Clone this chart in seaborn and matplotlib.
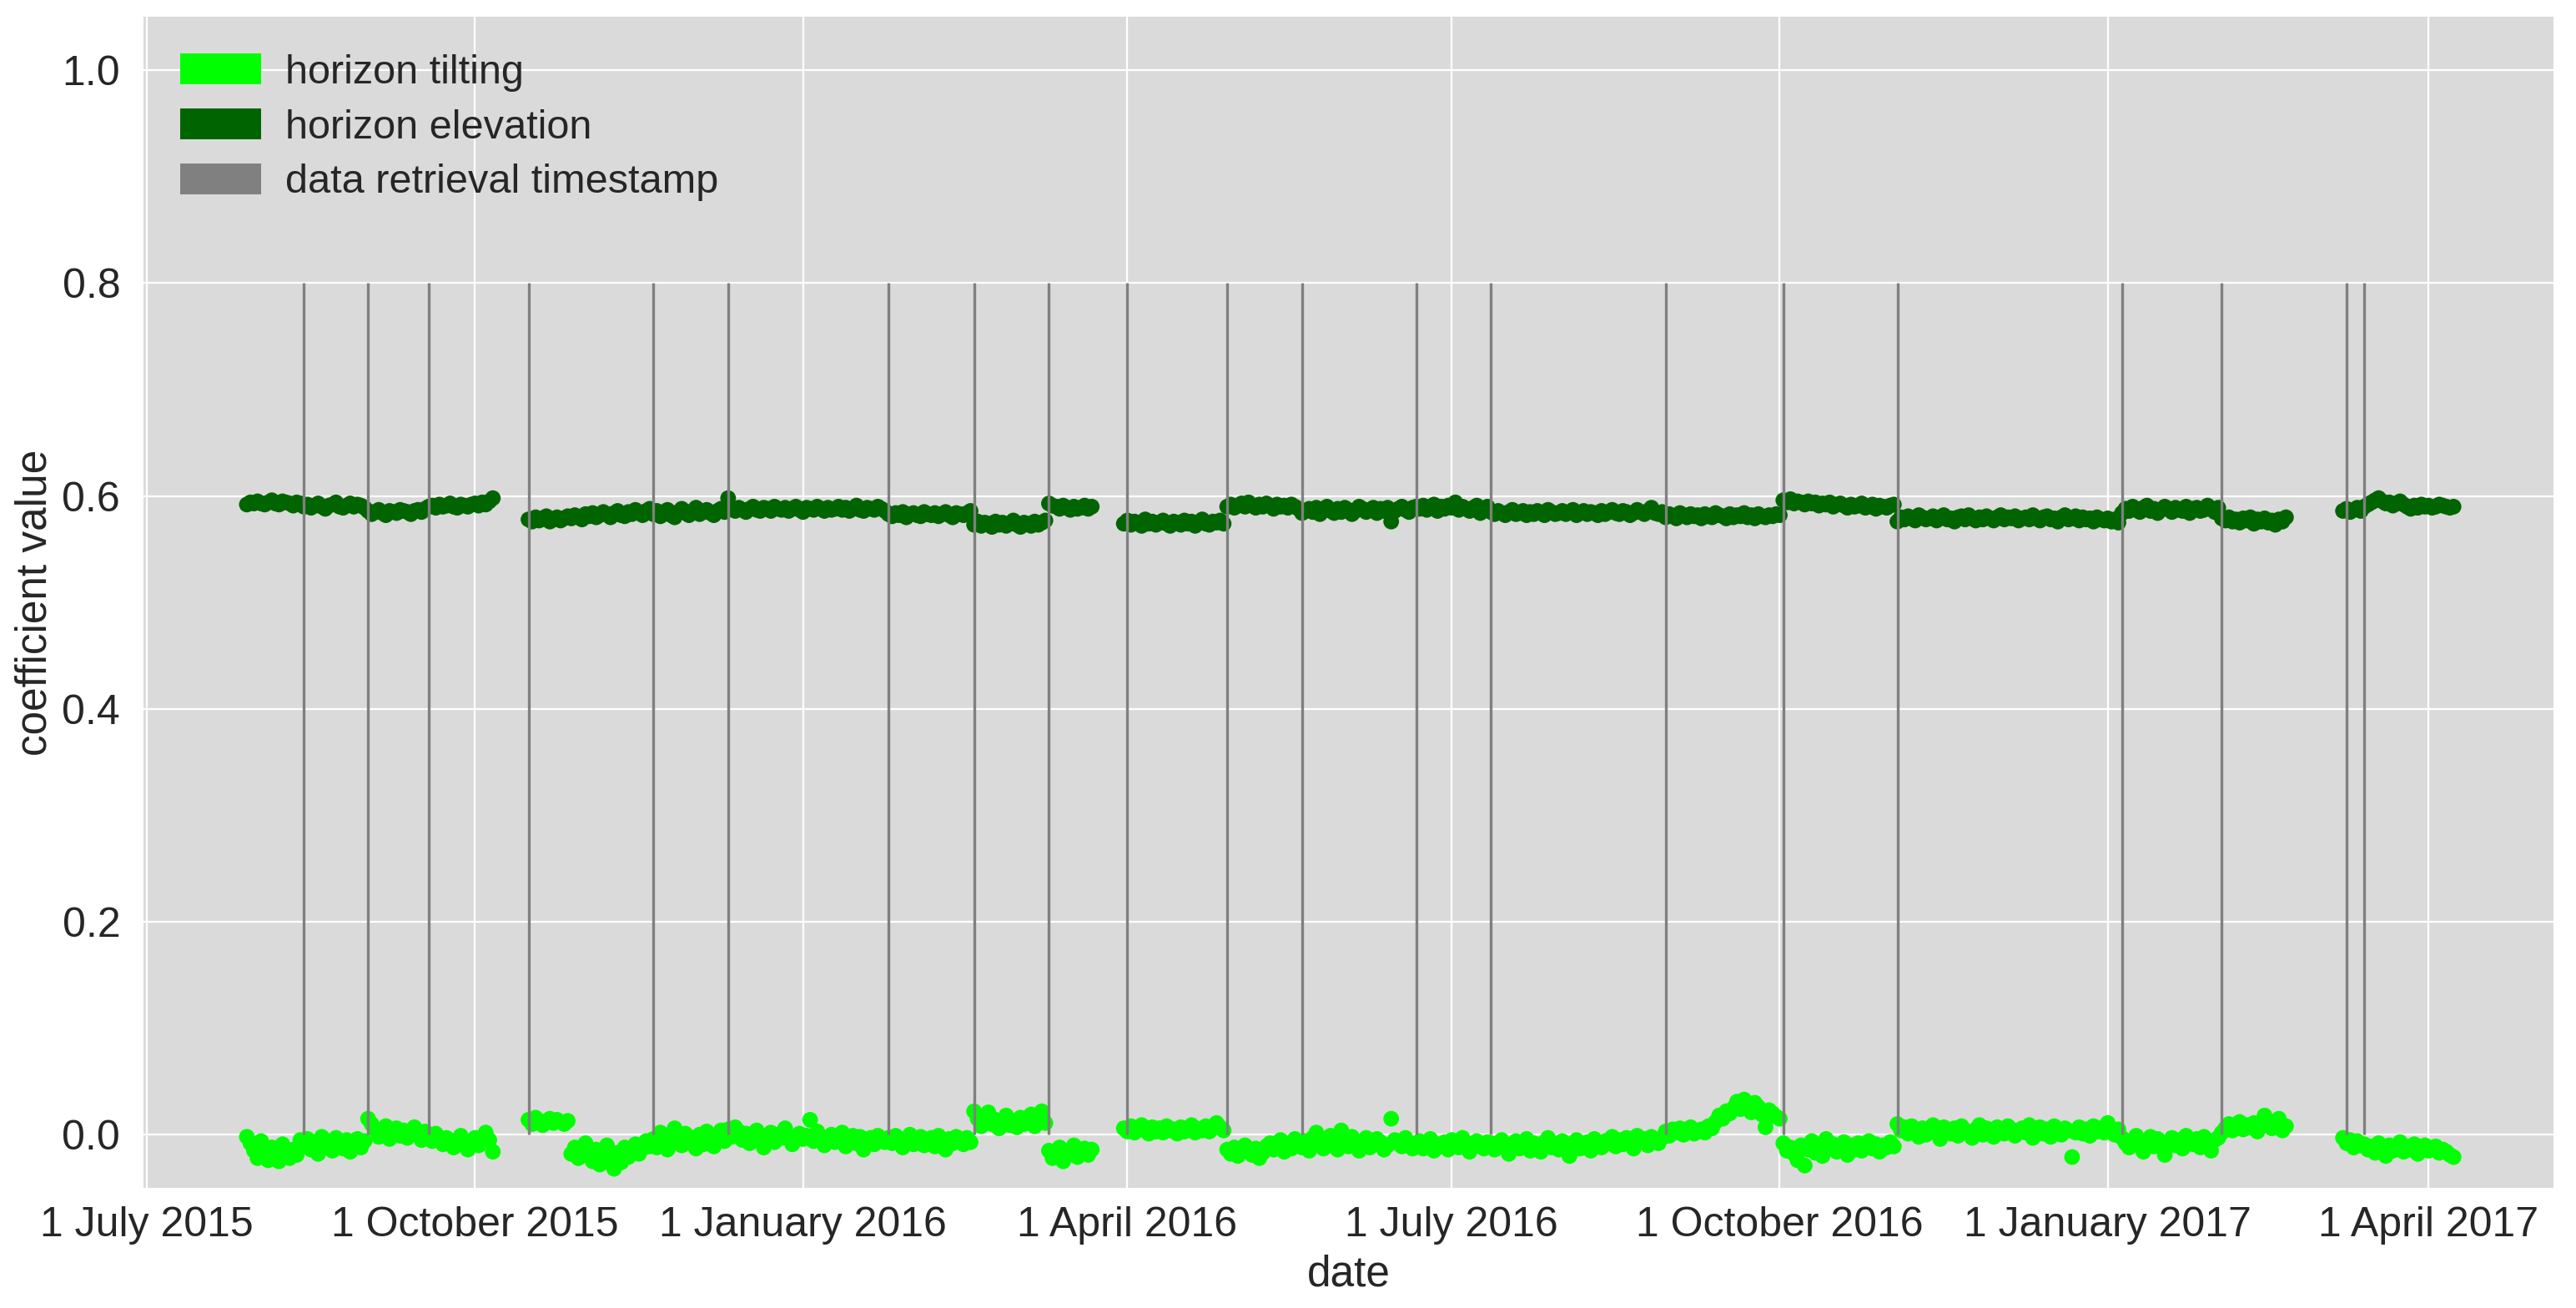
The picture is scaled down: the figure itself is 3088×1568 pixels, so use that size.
import numpy as np
import pandas as pd
import matplotlib
matplotlib.use("Agg")
import matplotlib.pyplot as plt
from matplotlib.patches import Patch
import seaborn as sns

# ---------------- data ----------------
piece_start = ['2015-07-29', '2015-08-14', '2015-09-01', '2015-09-18',
               '2015-10-16', '2015-10-28', '2015-11-20', '2015-12-11', '2016-01-25', '2016-02-18', '2016-03-10',
               '2016-03-31', '2016-04-29', '2016-05-20', '2016-06-21', '2016-07-12', '2016-08-30', '2016-10-02',
               '2016-11-03', '2017-01-05', '2017-02-02',
               '2017-03-08', '2017-03-14']

# horizon elevation (thousandths)
elevation_pieces = [
    [592, 594, 593, 595, 593, 592, 594, 596, 593, 592, 595, 594, 593, 591, 594, 593],
    [590, 592, 589, 591, 593, 590, 588, 591, 592, 594, 590, 589, 591, 593, 590, 592, 591, 589],
    [586, 583, 585, 587, 584, 582, 586, 585, 584, 587, 586, 585, 583, 586, 587, 585, 588],
    [590, 591, 589, 592, 590, 591, 593, 590, 589, 592, 591, 590, 592, 593, 591, 594, 592, 595, 598],
    [578, 576, 580, 577, 579, 581, 576, 578, 580, 577, 579, 581],
    [579, 582, 580, 578, 583, 581, 584, 580, 582, 585, 583, 580, 584, 586, 582, 581, 585, 583, 587, 584, 582, 586, 588],
    [583, 586, 581, 584, 587, 582, 580, 585, 588, 584, 582, 586, 589, 583, 585, 587, 584, 582, 586, 588, 585],
    [598, 588, 586, 589, 587, 585, 588, 590, 587, 586, 589, 588, 586, 590, 588, 587, 589, 586, 588, 590, 587, 585,
     589, 588, 587, 590, 588, 586, 589, 587, 588, 590, 587, 589, 586, 588, 591, 587, 586, 589, 588, 587, 590, 588, 586],
    [583, 581, 584, 582, 585, 580, 583, 584, 582, 581, 585, 583, 582, 584, 581, 583, 585, 582, 580, 584, 583, 582, 584, 586],
    [573, 576, 572, 575, 574, 571, 576, 573, 575, 572, 574, 577, 573, 571, 575, 574, 572, 576, 573, 575, 577],
    [593, 591, 590, 588, 591, 589, 587, 590, 588, 589, 591, 588, 590],
    [574, 577, 573, 576, 575, 572, 578, 574, 576, 573, 575, 577, 574, 572, 576, 575, 573, 577, 574, 576, 572, 575,
     578, 574, 573, 576, 575, 577, 574],
    [590, 592, 589, 591, 593, 590, 594, 591, 589, 592, 590, 593, 591, 588, 592, 590, 591, 589, 592, 590, 588],
    [584, 586, 588, 585, 589, 583, 587, 590, 586, 584, 588, 585, 589, 587, 583, 586, 590, 588, 585, 587, 589, 584,
     588, 586, 589, 576, 586, 588, 590, 587, 585, 589],
    [590, 588, 591, 587, 589, 592, 586, 590, 588, 591, 589, 594, 587, 590, 588, 586, 589, 591, 584, 588, 590],
    [585, 583, 586, 584, 582, 585, 587, 583, 584, 586, 582, 585, 583, 586, 584, 582, 587, 585, 583, 584, 586, 583,
     585, 587, 582, 584, 586, 583, 585, 584, 582, 586, 583, 585, 587, 584, 583, 586, 585, 582, 584, 587, 585, 583,
     586, 589, 584, 583, 585],
    [580, 583, 581, 579, 584, 582, 580, 583, 581, 582, 579, 583, 581, 580, 584, 582, 581, 579, 583, 580, 582, 581,
     584, 580, 582, 579, 583, 581, 580, 582, 581, 583, 582],
    [596, 594, 597, 593, 595, 594, 592, 595, 593, 594, 591, 593, 592, 594, 590, 592, 593, 591, 589, 592, 590, 591,
     593, 589, 590, 592, 588, 591, 590, 589, 591, 592],
    [576, 580, 578, 581, 579, 577, 582, 580, 578, 579, 581, 577, 580, 582, 578, 579, 576, 580, 581, 578, 582, 579,
     577, 580, 578, 581, 579, 577, 580, 582, 578, 580, 579, 581, 577, 579, 580, 578, 582, 579, 577, 580, 581, 578,
     579, 576, 580, 582, 578, 579, 581, 577, 580, 578, 579, 576, 580, 578, 577, 579, 576, 578, 575],
    [584, 588, 586, 590, 587, 585, 589, 591, 586, 588, 584, 587, 590, 588, 585, 589, 587, 586, 590, 584, 588, 589,
     586, 587, 591, 588, 585, 589],
    [579, 577, 580, 576, 578, 575, 579, 577, 580, 574, 578, 576, 579, 575, 577, 573, 578, 576, 580],
    [586, 588, 585, 587, 589, 586],
    [590, 592, 594, 596, 598, 595, 593, 594, 591, 593, 595, 592, 590, 588, 591, 589, 592, 590, 591, 589, 590, 592,
     591, 590, 589, 590],
]

# horizon tilting (thousandths)
tilting_pieces = [
    [-2, -8, -15, -22, -6, -18, -24, -12, -20, -25, -9, -17, -22, -14, -19, -5],
    [-10, -4, -14, -7, -18, -2, -11, -6, -15, -3, -9, -13, -5, -16, -8, -4, -12, -6],
    [15, 10, 5, -2, 3, 8, -4, 1, 6, -1, 4, -3, 2, 7, 0, -5, 3],
    [-2, -6, 1, -4, -9, -3, -7, -12, -5, -1, -8, -14, -6, -3, -10, -2, 2, -5, -16],
    [14, 10, 16, 12, 9, 13, 15, 11, 14, 12, 10, 13],
    [-18, -12, -22, -16, -8, -20, -25, -14, -28, -19, -10, -24, -32, -17, -26, -12, -21, -15, -9, -18, -13, -6, -11],
    [-4, -12, 2, -8, -14, -2, 6, -6, -10, 1, -7, -3, -13, 0, -9, 3, -5, -11, -1, 4, -6],
    [5, -2, 7, 3, -5, 1, -8, -3, 4, -1, -12, -4, 2, -7, 0, -3, 6, -2, -9, -5, 1, -4, -1, 14, -6, 3, -2, -10, -4, 0,
     -7, -3, 2, -11, -5, -1, -8, -2, -14, -6, -3, -9, -1, -4, -7],
    [-3, -8, -1, -6, -12, -4, 0, -9, -5, -2, -10, -7, -3, -11, -1, -6, -14, -4, -8, -2, -5, -9, -3, -7],
    [22, 15, 8, 12, 21, 10, 14, 6, 11, 18, 9, 13, 7, 16, 10, 12, 19, 8, 14, 22, 11],
    [-15, -22, -18, -12, -25, -20, -16, -10, -21, -17, -13, -19, -14],
    [6, 3, 8, 2, 5, 9, 4, 1, 7, 3, 6, 2, 8, 4, 5, 1, 7, 3, 6, 9, 2, 5, 4, 8, 3, 6, 11, 7, 4],
    [-14, -18, -12, -20, -16, -10, -15, -19, -13, -22, -17, -11, -8, -14, -12, -5, -16, -9, -13, -4, -10],
    [-12, -6, -15, -3, 2, -9, -13, -5, -1, -10, -14, 4, -7, -11, -2, -8, -15, -6, -3, -12, -9, -4, -7, -14, -10, 15,
     -5, -8, -11, -3, -9, -13],
    [-10, -6, -13, -8, -4, -15, -9, -11, -7, -14, -5, -10, -12, -3, -8, -16, -9, -6, -11, -13, -7],
    [-8, -14, -10, -5, -12, -18, -9, -6, -13, -11, -4, -15, -8, -10, -16, -7, -3, -12, -9, -14, -6, -11, -20, -8,
     -5, -13, -10, -7, -15, -4, -9, -12, -6, -8, -2, -11, -5, -9, -3, -7, -13, -1, -6, -4, -10, -2, -5, -8, -3],
    [3, -1, 5, 2, 6, 0, 4, 7, 1, 3, 5, 2, 8, 6, 12, 18, 15, 22, 20, 25, 31, 24, 33, 28, 21, 30, 26, 19, 7, 23, 20,
     17, 15],
    [-8, -15, -12, -18, -24, -10, -29, -14, -6, -17, -11, -20, -4, -13, -9, -16, -12, -7, -19, -10, -14, -8, -15,
     -11, -6, -13, -9, -16, -10, -12, -7, -11],
    [10, 4, 7, 1, 8, 3, -2, 6, 0, 5, 9, 2, -4, 7, 3, 1, 6, -1, 8, 4, 2, -3, 5, 9, 0, 6, 3, -2, 7, 4, 1, 8, 5, -1, 3,
     6, 2, 9, -3, 4, 7, 1, 5, -2, 8, 3, 0, 6, 4, -21, 2, 7, 1, 5, -1, 8, 3, 6, 2, 11, 4, 0, 5],
    [-3, -8, -12, -5, -1, -9, -16, -6, -2, -11, -4, -8, -19, -7, -3, -10, -5, -13, -1, -6, -9, -4, -12, -2, -7, -15,
     -5, -3],
    [2, 6, 10, 4, 8, 12, 5, 9, 7, 11, 3, 8, 18, 13, 6, 10, 15, 4, 8],
    [-3, -8, -5, -12, -6, -10],
    [-9, -14, -11, -17, -8, -13, -20, -10, -15, -12, -7, -16, -11, -14, -9, -18, -12, -10, -15, -13, -11, -17, -14,
     -16, -19, -21],
]

retrieval_dates = ['2015-08-14', '2015-09-01', '2015-09-18', '2015-10-16', '2015-11-20', '2015-12-11',
                   '2016-01-25', '2016-02-18', '2016-03-10', '2016-04-01', '2016-04-29', '2016-05-20',
                   '2016-06-21', '2016-07-12', '2016-08-30', '2016-10-02', '2016-11-03', '2017-01-05',
                   '2017-02-02', '2017-03-09', '2017-03-14']
retrieval_top = 0.8

tick_dates = ['2015-07-01', '2015-10-01', '2016-01-01', '2016-04-01',
              '2016-07-01', '2016-10-01', '2017-01-01', '2017-04-01']
tick_labels = ['1 July 2015', '1 October 2015', '1 January 2016', '1 April 2016',
               '1 July 2016', '1 October 2016', '1 January 2017', '1 April 2017']
y_ticks = [0.0, 0.2, 0.4, 0.6, 0.8, 1.0]

series_names = ['horizon tilting', 'horizon elevation', 'data retrieval timestamp']
series_colors = ['#00ff00', '#006400', '#808080']

# ---------------- build long table ----------------
rows = []
for start, ev, tv in zip(piece_start, elevation_pieces, tilting_pieces):
    d_e = pd.date_range(start, periods=len(ev), freq='D')
    d_t = pd.date_range(start, periods=len(tv), freq='D')
    rows.append(pd.DataFrame({'date': d_t, 'value': np.array(tv) / 1000.0, 'series': series_names[0]}))
    rows.append(pd.DataFrame({'date': d_e, 'value': np.array(ev) / 1000.0, 'series': series_names[1]}))
df = pd.concat(rows, ignore_index=True)

# ---------------- style ----------------
sns.set_style("darkgrid", {"axes.facecolor": "#dadada", "grid.color": "white"})
plt.rcParams['font.family'] = ['Liberation Sans', 'DejaVu Sans']
plt.rcParams['text.color'] = '#262626'
plt.rcParams['axes.labelcolor'] = '#262626'
plt.rcParams['xtick.color'] = '#262626'
plt.rcParams['ytick.color'] = '#262626'

fig = plt.figure(figsize=(15.44, 7.84), dpi=200)
ax = fig.add_axes([0.0557, 0.0918, 0.9355, 0.8952])

sns.scatterplot(data=df, x='date', y='value', hue='series',
                hue_order=series_names[:2], palette=series_colors[:2],
                s=46, linewidth=0, alpha=1.0, legend=False, ax=ax, zorder=2)

ax.vlines(pd.to_datetime(retrieval_dates), 0, retrieval_top, colors=series_colors[2],
          linewidth=1.2, zorder=3)

ax.set_xlim(pd.Timestamp('2015-06-30'), pd.Timestamp('2017-05-06'))
ax.set_ylim(-0.05, 1.05)
ax.set_xticks(pd.to_datetime(tick_dates))
ax.set_xticklabels(tick_labels)
ax.set_yticks(y_ticks)
ax.set_yticklabels([f'{v:.1f}' for v in y_ticks])
ax.tick_params(axis='both', labelsize=18, length=0)
ax.tick_params(axis='y', pad=10)
ax.tick_params(axis='x', pad=8)
ax.grid(True, color='white', linewidth=0.8)
ax.set_xlabel('date', fontsize=18.5, labelpad=4)
ax.set_ylabel('coefficient value', fontsize=18.5, labelpad=3)
for sp in ax.spines.values():
    sp.set_visible(False)

handles = [Patch(facecolor=c, edgecolor='none', label=n) for c, n in zip(series_colors, series_names)]
ax.legend(handles=handles, loc='upper left', frameon=False, fontsize=17.5,
          handlelength=2.0, handleheight=0.8, labelspacing=0.42, borderaxespad=0.5,
          handletextpad=0.6)

fig.savefig('out.png', dpi=200, facecolor='white')
